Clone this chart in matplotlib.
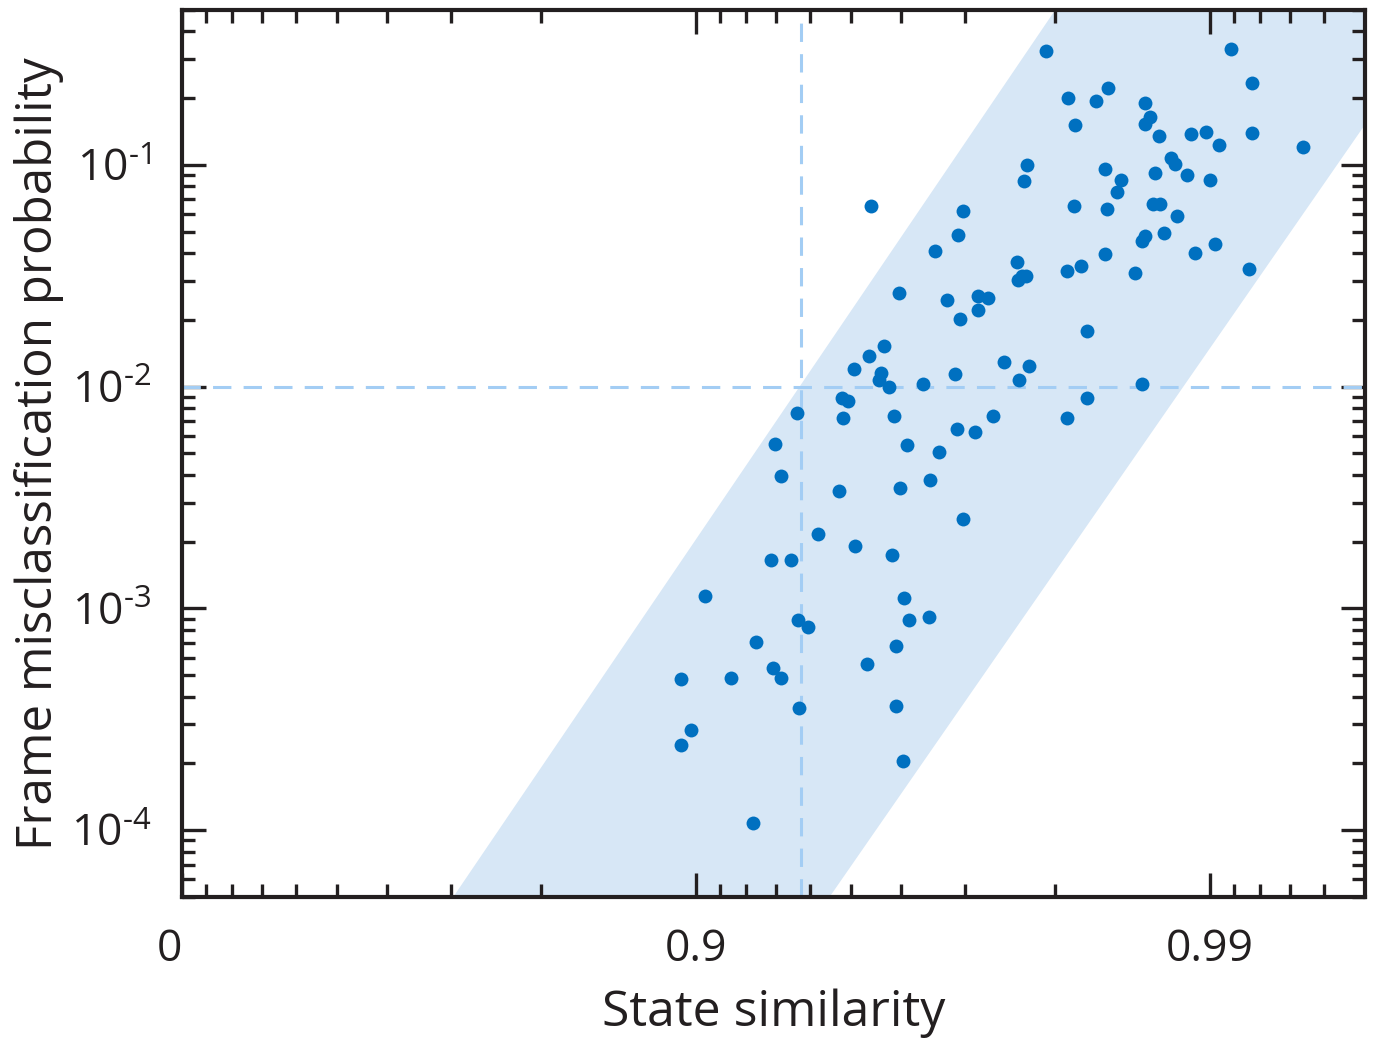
import numpy as np
import matplotlib
matplotlib.use("Agg")
import matplotlib.pyplot as plt
from matplotlib.ticker import FixedLocator, FixedFormatter, LogLocator, NullFormatter

plt.rcParams["font.family"] = ["Open Sans", "DejaVu Sans"]
plt.rcParams["mathtext.fontset"] = "custom"
plt.rcParams["mathtext.rm"] = "Open Sans"
plt.rcParams["mathtext.it"] = "Open Sans"

# ---------------------------------------------------------------------------
# Data (state similarity, misclassification prob.)
# ---------------------------------------------------------------------------
similarity = [
    0.9791, 0.9909, 0.9917, 0.9811, 0.9842, 0.9833, 0.9866, 0.9817, 0.9869, 0.9866,
    0.9874, 0.9891, 0.9898, 0.9917, 0.9904, 0.9934, 0.9773, 0.9881, 0.9883, 0.9840,
    0.9872, 0.9889, 0.9900, 0.9770, 0.9851, 0.9848, 0.9871, 0.9875, 0.9816, 0.9841,
    0.9884, 0.9543, 0.9698, 0.9691, 0.9877, 0.9866, 0.9864, 0.9902, 0.9840, 0.9893,
    0.9657, 0.9762, 0.9822, 0.9810, 0.9860, 0.9916, 0.9772, 0.9768, 0.9764, 0.9597,
    0.9675, 0.9717, 0.9729, 0.9717, 0.9693, 0.9826, 0.9569, 0.9538, 0.9748, 0.9775,
    0.9507, 0.9563, 0.9559, 0.9687, 0.9765, 0.9578, 0.9638, 0.9864, 0.9479, 0.9493,
    0.9482, 0.9587, 0.9826, 0.9736, 0.9810, 0.9363, 0.9298, 0.9689, 0.9713, 0.9612,
    0.9663, 0.9316, 0.9650, 0.9598, 0.9472, 0.9697, 0.9420, 0.9509, 0.9584, 0.9285,
    0.9346, 0.9606, 0.9040, 0.9614, 0.9647, 0.9366, 0.9394, 0.9236, 0.9591, 0.9145,
    0.9291, 0.9316, 0.9534, 0.8931, 0.8977, 0.8931, 0.9369, 0.9591, 0.9604, 0.9225,
]
probability = [
    0.326, 0.333, 0.2344, 0.2007, 0.2226, 0.1945, 0.1905, 0.1518, 0.1649, 0.1533,
    0.1354, 0.1383, 0.1411, 0.1397, 0.1234, 0.1208, 0.0997, 0.1078, 0.1013, 0.0962,
    0.0923, 0.0904, 0.0859, 0.0850, 0.0859, 0.0759, 0.0670, 0.0670, 0.0656, 0.0630,
    0.0586, 0.0656, 0.0623, 0.0481, 0.0491, 0.0476, 0.0452, 0.0438, 0.0395, 0.0399,
    0.0408, 0.0364, 0.0349, 0.0331, 0.0325, 0.0338, 0.0315, 0.0315, 0.0302, 0.0264,
    0.0245, 0.0256, 0.0251, 0.0221, 0.0202, 0.0178, 0.01525, 0.01375, 0.01293, 0.0124,
    0.0120, 0.01153, 0.01073, 0.01141, 0.01073, 0.00998, 0.0103, 0.0103, 0.0089, 0.00863,
    0.00724, 0.00739, 0.0089, 0.00739, 0.00724, 0.00762, 0.00553, 0.00646, 0.00626, 0.00547,
    0.00509, 0.00397, 0.00381, 0.00351, 0.00337, 0.002545, 0.002158, 0.001905, 0.001736, 0.00165,
    0.00165, 0.001112, 0.001136, 0.000886, 0.000914, 0.000886, 0.000824, 0.000706, 0.000677, 0.000486,
    0.000539, 0.000486, 0.000562, 0.000481, 0.000284, 0.000243, 0.000356, 0.000364, 0.000206, 0.0001073,
]

# shaded band: log10(P) = slope * (-log10(1 - s)) + intercept
band_upper = (3.416, -6.103)
band_lower = (3.344, -8.513)

sim_threshold = 0.9375
prob_threshold = 1e-2

xticks = [0, 0.9, 0.99]
xticklabels = ["0", "0.9", "0.99"]
yticks = [1e-4, 1e-3, 1e-2, 1e-1]
yexponents = [4, 3, 2, 1]
xlim = (0, 0.995)
ylim = (5e-5, 0.5)

POINT_COLOR = "#0070c0"
BAND_COLOR = "#d7e7f6"
DASH_COLOR = "#a3cdf4"
INK = "#231f20"


def fwd(s):
    s = np.asarray(s, dtype=float)
    return -np.log10(np.clip(1.0 - s, 1e-12, None))


def inv(u):
    return 1.0 - 10.0 ** (-np.asarray(u, dtype=float))


fig = plt.figure(figsize=(13.74, 10.4), dpi=100)
ax = fig.add_axes([0.1325, 0.1375, 0.9934 - 0.1325, 0.9904 - 0.1375])
ax.set_xscale("function", functions=(fwd, inv))
ax.set_yscale("log")

# band
u = np.linspace(0.0, 2.6, 200)
s_grid = inv(u)
hi = 10.0 ** (band_upper[0] * u + band_upper[1])
lo = 10.0 ** (band_lower[0] * u + band_lower[1])
ax.fill_between(s_grid, lo, hi, color=BAND_COLOR, lw=0, zorder=1)

# threshold lines
ax.axvline(sim_threshold, color=DASH_COLOR, ls=(0, (6, 4)), lw=2.2, zorder=2)
ax.axhline(prob_threshold, color=DASH_COLOR, ls=(0, (6, 4)), lw=2.2, zorder=2)

ax.scatter(similarity, probability, s=100, color=POINT_COLOR, lw=0, zorder=3)

ax.set_xlim(*xlim)
ax.set_ylim(*ylim)

# ticks
ax.xaxis.set_major_locator(FixedLocator(xticks))
ax.xaxis.set_major_formatter(FixedFormatter(xticklabels))
minor = [1 - k * 10.0 ** -d for d in (1, 2, 3) for k in range(2, 10)]
minor = [m for m in minor if xlim[0] < m < xlim[1]]
ax.xaxis.set_minor_locator(FixedLocator(minor))
ax.xaxis.set_minor_formatter(NullFormatter())

ax.yaxis.set_major_locator(FixedLocator(yticks))
ax.yaxis.set_major_formatter(FixedFormatter(
    [r"$\mathdefault{10^{\text{-}%d}}$" % k for k in yexponents]))
ax.yaxis.set_minor_locator(LogLocator(base=10, subs=np.arange(2, 10), numticks=20))
ax.yaxis.set_minor_formatter(NullFormatter())

ax.tick_params(which="both", direction="in", top=True, right=True,
               color=INK, width=2.4, labelcolor=INK)
ax.tick_params(which="major", length=17, labelsize=32)
ax.tick_params(which="minor", length=9.5)
ax.tick_params(axis="x", which="major", pad=22)
ax.tick_params(axis="y", which="major", pad=22)

for sp in ax.spines.values():
    sp.set_linewidth(3)
    sp.set_color(INK)

ax.get_xticklabels()[0].set_ha("right")

ax.set_xlabel("State similarity", fontsize=36, color=INK, labelpad=12)
ax.set_ylabel("Frame misclassification probability", fontsize=35.5, color=INK, labelpad=5)

fig.savefig("out.png", dpi=100)
